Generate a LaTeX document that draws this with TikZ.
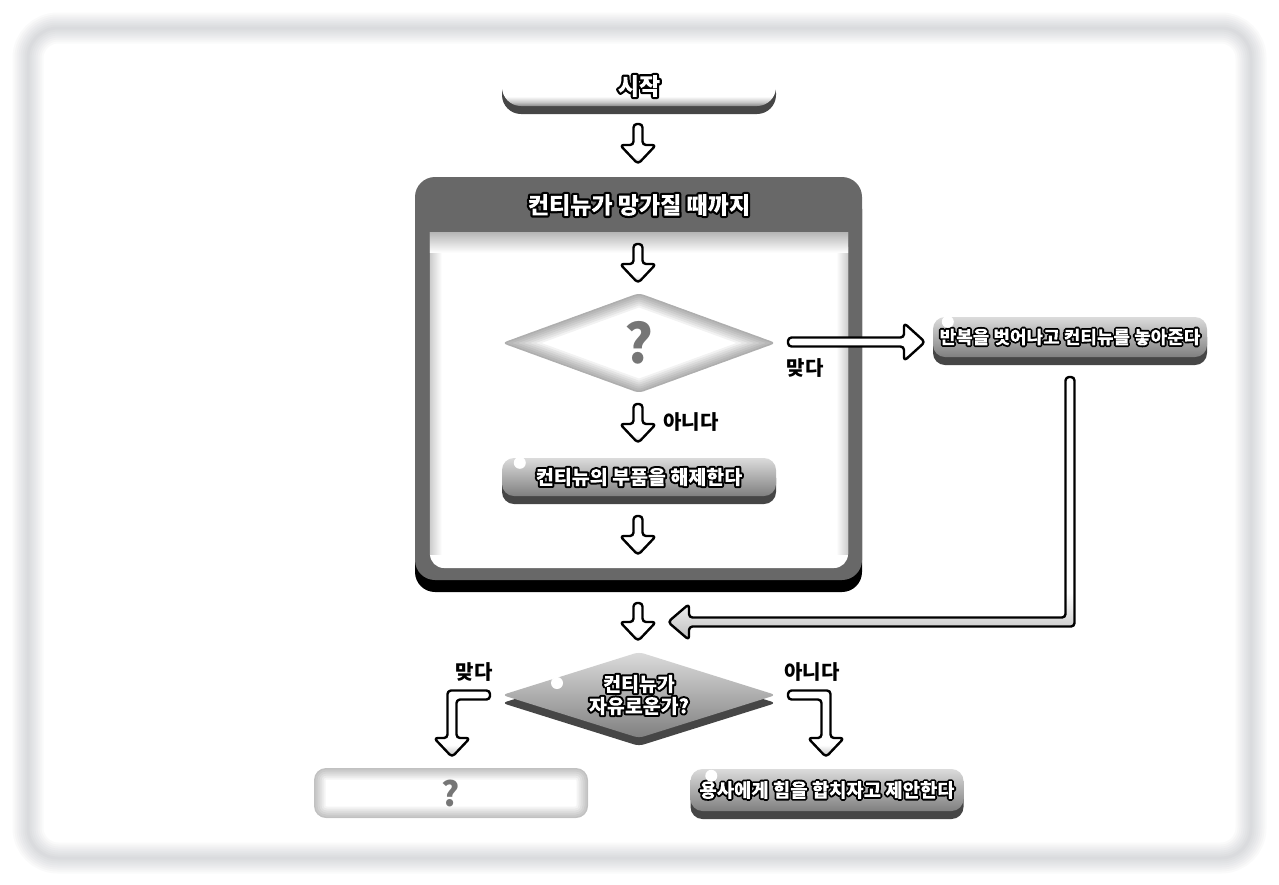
\documentclass[tikz,border=0pt]{standalone}
\usepackage{fontspec}
\newfontfamily\kr{Noto Sans CJK KR}
\usetikzlibrary{calc,shadows,shapes.geometric}
\definecolor{shd}{RGB}{140,146,156}
\definecolor{boxgray}{RGB}{104,104,104}
\definecolor{bshadow}{RGB}{70,70,70}
\definecolor{qgray}{RGB}{118,118,118}
% shadings (path bounding box = middle 25bp..75bp)
\pgfdeclareverticalshading{startsh}{100bp}{color(0bp)=(black!46); color(25bp)=(black!46); color(30bp)=(black!22); color(37bp)=(white); color(100bp)=(white)}
\pgfdeclareverticalshading{arrsh}{100bp}{color(0bp)=(black!26); color(25bp)=(black!26); color(34bp)=(white); color(100bp)=(white)}
\pgfdeclareverticalshading{btnsh}{100bp}{color(0bp)=(black!50); color(25bp)=(black!50); color(75bp)=(black!14); color(100bp)=(black!14)}
% white text with a black outline (fill+stroke+clip, then white fill inside glyphs)
\newcommand\olt[2][4]{\special{pdf:literal direct q 6 Tr #1 w 1 j 0 0 0 RG 0 0 0 rg}#2\special{pdf:literal direct 1 1 1 rg -5000 -5000 10000 10000 re f Q}}
\tikzset{
  ol/.style={font=\kr\bfseries\fontsize{#1}{#1}\selectfont, text=black},
  btn/.style={rectangle, rounded corners=12pt, minimum width=274pt, minimum height=40pt, inner sep=0pt,
    shade, shading=btnsh, general shadow={fill=bshadow, shadow yshift=-8pt}},
  startbtn/.style={rectangle, rounded corners=19pt, minimum width=274pt, minimum height=40pt, inner sep=0pt,
    shade, shading=startsh, general shadow={fill=bshadow, shadow yshift=-8pt}},
  lbl/.style={font=\kr\bfseries\fontsize{20}{20}\selectfont, text=black, inner sep=0pt},
  barrow/.style={draw=black, line width=2.4pt, rounded corners=3.5pt, line join=round, shade, shading=arrsh},
  glowdia/.style={fill=white, path picture={
    \foreach \w in {3,7,...,27}
      \draw[black, line width=\w pt, draw opacity=0.05, line join=round]
        (path picture bounding box.north) -- (path picture bounding box.east) --
        (path picture bounding box.south) -- (path picture bounding box.west) -- cycle;}},
  glowbox/.style={fill=white, path picture={
    \foreach \w in {3,7,...,23}
      \draw[black, line width=\w pt, draw opacity=0.045, rounded corners=12pt]
        (path picture bounding box.north west) rectangle (path picture bounding box.south east);}},
}
% block arrows
\newcommand\arDown[2]{\path[barrow] let \p1=(#1), \p2=(#2) in
  (\x1-4.5pt,\y1) -- (\x1+4.5pt,\y1) -- (\x1+4.5pt,\y2+19pt) -- (\x1+18pt,\y2+19pt) -- (\x1,\y2)
  -- (\x1-18pt,\y2+19pt) -- (\x1-4.5pt,\y2+19pt) -- cycle;}
\newcommand\arRight[2]{\path[barrow] let \p1=(#1), \p2=(#2) in
  (\x1,\y1+4.5pt) -- (\x2-21pt,\y1+4.5pt) -- (\x2-21pt,\y1+19pt) -- (\x2,\y1) -- (\x2-21pt,\y1-19pt)
  -- (\x2-21pt,\y1-4.5pt) -- (\x1,\y1-4.5pt) -- cycle;}
% vertical down, then left to tip
\newcommand\arDownLeft[3]{\path[barrow] let \p1=(#1), \p2=(#2), \p3=(#3) in
  (\x1-4.5pt,\y1) -- (\x1+4.5pt,\y1) -- (\x1+4.5pt,\y2-4.5pt) -- (\x3+21pt,\y2-4.5pt) -- (\x3+21pt,\y2-18pt)
  -- (\x3,\y2) -- (\x3+21pt,\y2+18pt) -- (\x3+21pt,\y2+4.5pt) -- (\x1-4.5pt,\y2+4.5pt) -- cycle;}
% horizontal (direction sign #4), then down to tip
\newcommand\arSideDown[4]{\path[barrow] let \p1=(#1), \p2=(#2), \p3=(#3) in
  (\x1,\y2+4.5pt) -- (\x2+#4*4.5pt,\y2+4.5pt) -- (\x2+#4*4.5pt,\y3+19pt) -- (\x2+#4*18pt,\y3+19pt) -- (\x2,\y3)
  -- (\x2-#4*18pt,\y3+19pt) -- (\x2-#4*4.5pt,\y3+19pt) -- (\x2-#4*4.5pt,\y2-4.5pt) -- (\x1,\y2-4.5pt) -- cycle;}

\begin{document}
\begin{tikzpicture}[x=1pt,y=-1pt]
\useasboundingbox (0,0) rectangle (1279,884);
\fill[white] (0,0) rectangle (1279,884);
% outer frame with soft shadow
\fill[white, rounded corners=30pt] (28,28) rectangle (1251,858);
\foreach \w in {3,7,...,31}
  \draw[shd, line width=\w pt, draw opacity=0.045, rounded corners=30pt] (28,28) rectangle (1251,858);

% start
\node[startbtn, ol=23] (start) at (639,86) {\olt[4.5]{시작}};

% loop container
\node[rectangle, rounded corners=20pt, minimum width=447pt, minimum height=403pt, inner sep=0pt,
  fill=boxgray, general shadow={fill=black, shadow yshift=-12pt}] (loop) at (638.5,378.5) {};
\node[rectangle, rounded corners=14pt, minimum width=418pt, minimum height=335pt, inner sep=0pt, fill=white] (panel) at (639,400.5) {};
\fill[white] (panel.north west) rectangle ($(panel.north east)+(0,30)$);
\shade[left color=black!20, right color=white] (panel.north west) rectangle ($(panel.south west)+(12,-14)$);
\shade[left color=white, right color=black!20] ($(panel.north east)+(-12,0)$) rectangle ($(panel.south east)+(0,-14)$);
\shade[top color=black!28, bottom color=white] (panel.north west) rectangle ($(panel.north east)+(0,20)$);
\node[ol=23] (loophead) at (639,205) {\olt[4.5]{컨티뉴가 망가질 때까지}};

% decision 1
\node[diamond, aspect=2.7, minimum width=274pt, minimum height=100pt, inner sep=0pt, rounded corners=5pt,
  glowdia, font=\kr\bfseries\fontsize{54}{54}\selectfont, text=qgray] (q1) at (639,343) {?};

% exit node
\node[btn, ol=18] (rn) at (1070,337) {\olt[3.6]{반복을 벗어나고 컨티뉴를 놓아준다}};
\fill[white] ($(rn.north west)+(15,5)$) circle (6pt);

% release node
\node[btn, minimum height=38pt, ol=19.5] (rel) at (639,477) {\olt[4]{컨티뉴의 부품을 해제한다}};
\fill[white] ($(rel.north west)+(18,5)$) circle (6pt);

% decision 2
\node[diamond, aspect=3.1, minimum width=274pt, minimum height=86pt, inner sep=0pt, rounded corners=5pt,
  shade, shading=btnsh, general shadow={fill=bshadow, shadow yshift=-8pt},
  align=center, font=\kr\bfseries\fontsize{19.5}{22}\selectfont, text=black] (q2) at (639,695)
  {\olt[4]{컨티뉴가}\\\olt[4]{자유로운가?}};
\fill[white] ($(q2.center)+(-82,-12)$) circle (6pt);

% bottom nodes
\node[rectangle, rounded corners=12pt, minimum width=274pt, minimum height=50pt, inner sep=0pt,
  glowbox, font=\kr\bfseries\fontsize{34}{34}\selectfont, text=qgray] (q3) at (451,793) {?};
\node[btn, minimum width=273pt, minimum height=42pt, ol=18.8] (prop) at (827,790) {\olt[3.8]{용사에게 힘을 합치자고 제안한다}};
\fill[white] ($(prop.north west)+(21,7)$) circle (6pt);

% labels
\node[lbl] (yes1) at (805,368) {맞다};
\node[lbl] (no1) at (691,422) {아니다};
\node[lbl] (yes2) at (474,672) {맞다};
\node[lbl] (no2) at (812,672) {아니다};

% connectors
\coordinate (a1s) at (638,124); \coordinate (a1e) at (638,164);
\coordinate (a2s) at (638,244); \coordinate (a2e) at (638,283);
\coordinate (a3s) at (638,404); \coordinate (a3e) at (638,443);
\coordinate (a4s) at (638,516); \coordinate (a4e) at (638,555);
\coordinate (a5s) at (638,603); \coordinate (a5e) at (638,641);
\coordinate (ars) at (788,342); \coordinate (are) at (925,342);
\coordinate (rts) at (1070,377); \coordinate (rtc) at (1070,622); \coordinate (rte) at (668,622);
\coordinate (lbs) at (490,695); \coordinate (lbc) at (452,695); \coordinate (lbe) at (452,757);
\coordinate (rbs) at (788,695); \coordinate (rbc) at (826,695); \coordinate (rbe) at (826,757);
\arDown{a1s}{a1e}
\arDown{a2s}{a2e}
\arDown{a3s}{a3e}
\arDown{a4s}{a4e}
\arDown{a5s}{a5e}
\arRight{ars}{are}
\arDownLeft{rts}{rtc}{rte}
\arSideDown{lbs}{lbc}{lbe}{-1}
\arSideDown{rbs}{rbc}{rbe}{1}
\end{tikzpicture}
\end{document}
